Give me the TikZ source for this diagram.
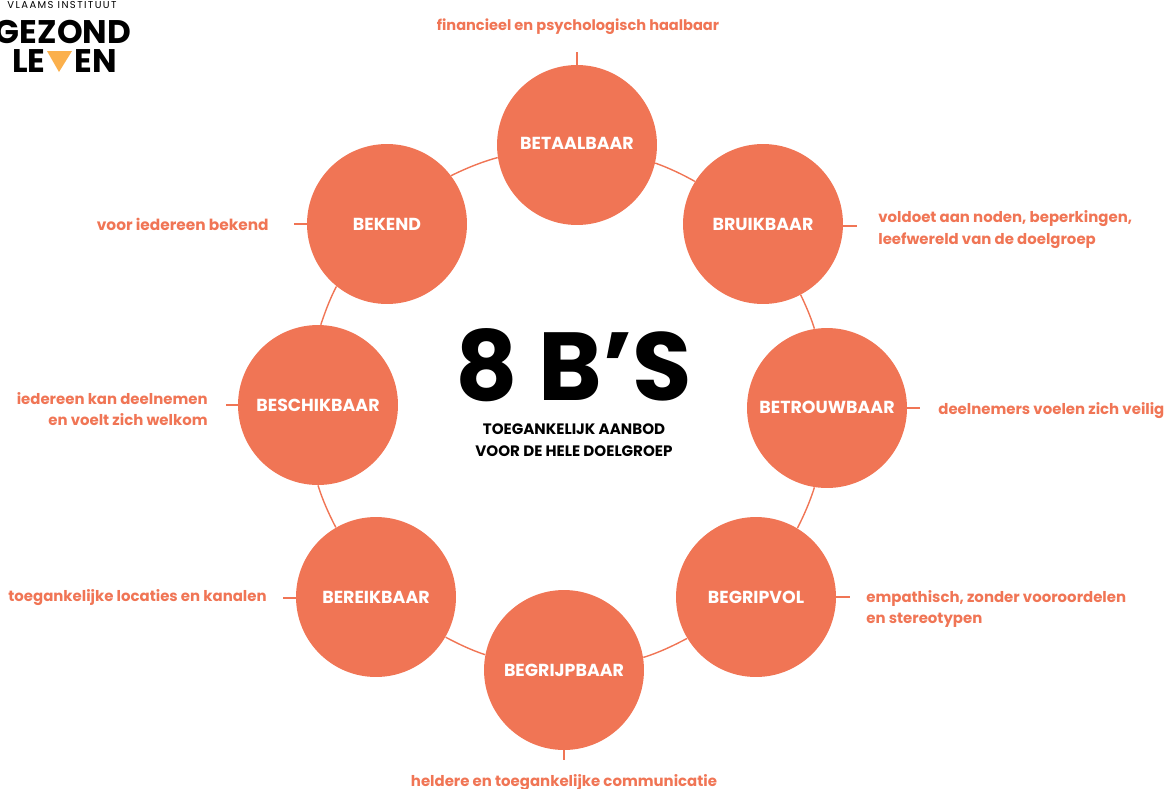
\documentclass[tikz,border=0pt]{standalone}
\usepackage{fontspec}
\setmainfont{Poppins}[BoldFont={Poppins Bold}]
\newfontfamily\spaced{Poppins}[LetterSpace=14]
\definecolor{coral}{HTML}{F07555}
\definecolor{logoorange}{HTML}{FBB04C}
\tikzset{
  bcircle/.style={circle, fill=coral, minimum size=3.2cm, inner sep=0pt, text=white, font=\fontsize{9.9}{12}\selectfont\bfseries},
  link/.style={draw=coral, line width=0.8pt},
  ring/.style={link, looseness=0.85},
  note/.style={text=coral, font=\fontsize{8.5}{12.4}\selectfont\bfseries, inner sep=0pt},
  logotext/.style={inner sep=0pt, font=\fontsize{18.6}{22}\selectfont\bfseries}
}
\begin{document}
\begin{tikzpicture}[x=0.02cm, y=-0.02cm]
    \useasboundingbox (0, 0) rectangle (1169, 788);

    % Logo
    \node[inner sep=0pt, font=\fontsize{5.7}{7}\selectfont\spaced] (logotop) at (62, 5) {VLAAMS INSTITUUT};
    \node[logotext] (logoa) at (63, 32) {GEZOND};
    \node[logotext, anchor=east] (logob) at (46, 61) {LE};
    \node[logotext, anchor=west] (logoc) at (74, 61) {EN};
    \fill[logoorange] (47, 51) -- (72, 51) -- (59, 72) -- cycle;

    % Circles
    \node[bcircle] (betaalbaar) at (577, 145) {\raisebox{2pt}{BETAALBAAR}};
    \node[bcircle] (bruikbaar) at (763, 224) {BRUIKBAAR};
    \node[bcircle] (betrouwbaar) at (827, 408) {\raisebox{1pt}{BETROUWBAAR}};
    \node[bcircle] (begripvol) at (756, 597) {BEGRIPVOL};
    \node[bcircle] (begrijpbaar) at (564, 670) {BEGRIJPBAAR};
    \node[bcircle] (bereikbaar) at (376, 597) {BEREIKBAAR};
    \node[bcircle] (beschikbaar) at (318, 405) {BESCHIKBAAR};
    \node[bcircle] (bekend) at (387, 224) {BEKEND};

    % Ring between the circles
    \draw[ring] (betaalbaar.-13.5) to[out=-20, in=150.2] (bruikbaar.148.5);
    \draw[ring] (bruikbaar.-62.3) to[out=-64.2, in=107.6] (betrouwbaar.99.5);
    \draw[ring] (betrouwbaar.-99.5) to[out=-107.6, in=62.5] (begripvol.59.5);
    \draw[ring] (begripvol.-149.2) to[out=-152.1, in=17.2] (begrijpbaar.9.8);
    \draw[ring] (begrijpbaar.169.4) to[out=-198, in=-27.9] (bereikbaar.-30.8);
    \draw[ring] (bereikbaar.120.5) to[out=-242.5, in=-72.8] (beschikbaar.-90.3);
    \draw[ring] (beschikbaar.88.9) to[out=71.4, in=242] (bekend.-129.3);
    \draw[ring] (bekend.37.6) to[out=26.4, in=195.2] (betaalbaar.-171.3);

    % Short ticks towards the notes
    \coordinate (tickbetaalbaar) at (577, 52);
    \coordinate (tickbruikbaar) at (857, 226);
    \coordinate (tickbetrouwbaar) at (920, 408);
    \coordinate (tickbegripvol) at (850, 597);
    \coordinate (tickbegrijpbaar) at (564, 760);
    \coordinate (tickbereikbaar) at (283, 598);
    \coordinate (tickbeschikbaar) at (226, 405);
    \coordinate (tickbekend) at (294, 224);
    \draw[link] (betaalbaar) -- (tickbetaalbaar);
    \draw[link] (bruikbaar.east |- tickbruikbaar) -- (tickbruikbaar);
    \draw[link] (betrouwbaar) -- (tickbetrouwbaar);
    \draw[link] (begripvol) -- (tickbegripvol);
    \draw[link] (begrijpbaar) -- (tickbegrijpbaar);
    \draw[link] (bereikbaar.west |- tickbereikbaar) -- (tickbereikbaar);
    \draw[link] (beschikbaar) -- (tickbeschikbaar);
    \draw[link] (bekend) -- (tickbekend);

    % Notes
    \node[note, font=\fontsize{8.3}{12.4}\selectfont\bfseries] (notebetaalbaar) at (578, 27) {financieel en psychologisch haalbaar};
    \node[note, anchor=west, align=left] (notebruikbaar) at (878, 229.5) {voldoet aan noden, beperkingen,\\leefwereld van de doelgroep};
    \node[note, anchor=west] (notebetrouwbaar) at (938, 411) {deelnemers voelen zich veilig};
    \node[note, anchor=west, align=left] (notebegripvol) at (866, 609) {empathisch, zonder vooroordelen\\en stereotypen};
    \node[note] (notebegrijpbaar) at (564, 783) {heldere en toegankelijke communicatie};
    \node[note, anchor=east] (notebereikbaar) at (267, 598) {toegankelijke locaties en kanalen};
    \node[note, anchor=east, align=right] (notebeschikbaar) at (208, 409) {iedereen kan deelnemen\\en voelt zich welkom};
    \node[note, anchor=east, font=\fontsize{8.75}{12.4}\selectfont\bfseries] (notebekend) at (269, 224) {voor iedereen bekend};

    % Centre title
    \node[inner sep=0pt, font=\fontsize{55}{60}\selectfont\bfseries] (title) at (574, 365) {8 B’S};
    \node[inner sep=0pt, align=center, font=\fontsize{8.6}{12.5}\selectfont\bfseries] (subtitle) at (574, 440) {TOEGANKELIJK AANBOD\\VOOR DE HELE DOELGROEP};
\end{tikzpicture}
\end{document}
